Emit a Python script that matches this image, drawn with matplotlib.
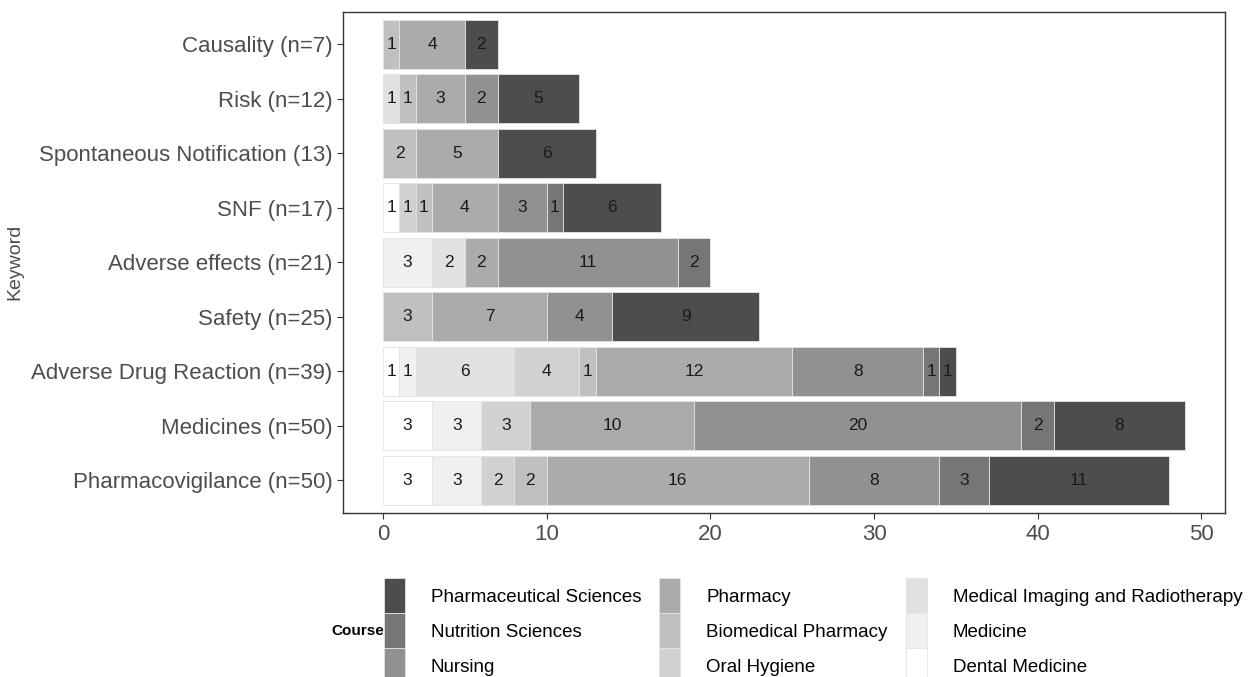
import numpy as np
import matplotlib
matplotlib.use('Agg')
from matplotlib import pyplot as plt
from matplotlib.patches import Patch

plt.rcParams['font.family'] = ['Liberation Sans', 'DejaVu Sans']

# keywords, top to bottom as shown
keywords = ['Causality (n=7)', 'Risk (n=12)', 'Spontaneous Notification (13)',
            'SNF (n=17)', 'Adverse effects (n=21)', 'Safety (n=25)',
            'Adverse Drug Reaction (n=39)', 'Medicines (n=50)',
            'Pharmacovigilance (n=50)']

# courses in stacking order (left to right)
courses = ['Dental Medicine', 'Medicine', 'Medical Imaging and Radiotherapy',
           'Oral Hygiene', 'Biomedical Pharmacy', 'Pharmacy', 'Nursing',
           'Nutrition Sciences', 'Pharmaceutical Sciences']

dental = [0, 0, 0, 1, 0, 0, 1, 3, 3]
medicine = [0, 0, 0, 0, 3, 0, 1, 3, 3]
imaging = [0, 1, 0, 0, 2, 0, 6, 0, 0]
oral_hygiene = [0, 0, 0, 1, 0, 0, 4, 3, 2]
biomedical = [1, 1, 2, 1, 0, 3, 1, 0, 2]
pharmacy = [4, 3, 5, 4, 2, 7, 12, 10, 16]
nursing = [0, 2, 0, 3, 11, 4, 8, 20, 8]
nutrition = [0, 0, 0, 1, 2, 0, 1, 2, 3]
pharm_sci = [2, 5, 6, 6, 0, 9, 1, 8, 11]

counts = [dental, medicine, imaging, oral_hygiene, biomedical, pharmacy,
          nursing, nutrition, pharm_sci]

greys = ['#ffffff', '#f0f0f0', '#e1e1e1', '#d1d1d1', '#c0c0c0',
         '#ababab', '#919191', '#767676', '#4d4d4d']

fig = plt.figure(figsize=(12.5, 6.77), dpi=100)
ax = fig.add_axes([0.2744, 0.242, 0.7056, 0.741])

y = np.arange(len(keywords))
left = np.zeros(len(keywords))
for course, vals, col in zip(courses, counts, greys):
    vals = np.array(vals, dtype=float)
    ax.barh(y, vals, left=left, height=0.9, color=col,
            edgecolor='#e4e4e4', linewidth=0.6)
    for yi, l, v in zip(y, left, vals):
        if v > 0:
            ax.text(l + v / 2, yi, '%d' % v, ha='center', va='center',
                    fontsize=12.5, color='#1a1a1a')
    left += vals

totals = left
ax.set_xlim(-0.05 * totals.max(), totals.max() * 1.05)
ax.set_ylim(len(keywords) - 0.4, -0.6)
ax.set_yticks(y)
ax.set_yticklabels(keywords)
ax.set_xticks([0, 10, 20, 30, 40, 50])
ax.tick_params(axis='both', labelsize=16, labelcolor='#4d4d4d',
               color='#333333', length=4, width=0.8)
ax.set_ylabel('Keyword', fontsize=14, color='#4d4d4d')
ax.yaxis.set_label_coords(-0.362, 0.5)
for s in ax.spines.values():
    s.set_color('#333333')
    s.set_linewidth(1.0)

# legend, ordered darkest first, filled column-wise
handles = [Patch(facecolor=c, edgecolor='#e4e4e4', linewidth=0.6)
           for c in greys[::-1]]
fig.legend(handles, courses[::-1], ncol=3, loc='center left',
           bbox_to_anchor=(0.307, 0.068), frameon=False, fontsize=13.5,
           handlelength=1.12, handleheight=2.5, labelspacing=0.0,
           handletextpad=1.39, columnspacing=0.96, borderpad=0.0,
           borderaxespad=0.0)
fig.text(0.265, 0.068, 'Course', fontsize=11, fontweight='bold',
         va='center', ha='left', color='#000000')

fig.savefig('out.png', dpi=100)
